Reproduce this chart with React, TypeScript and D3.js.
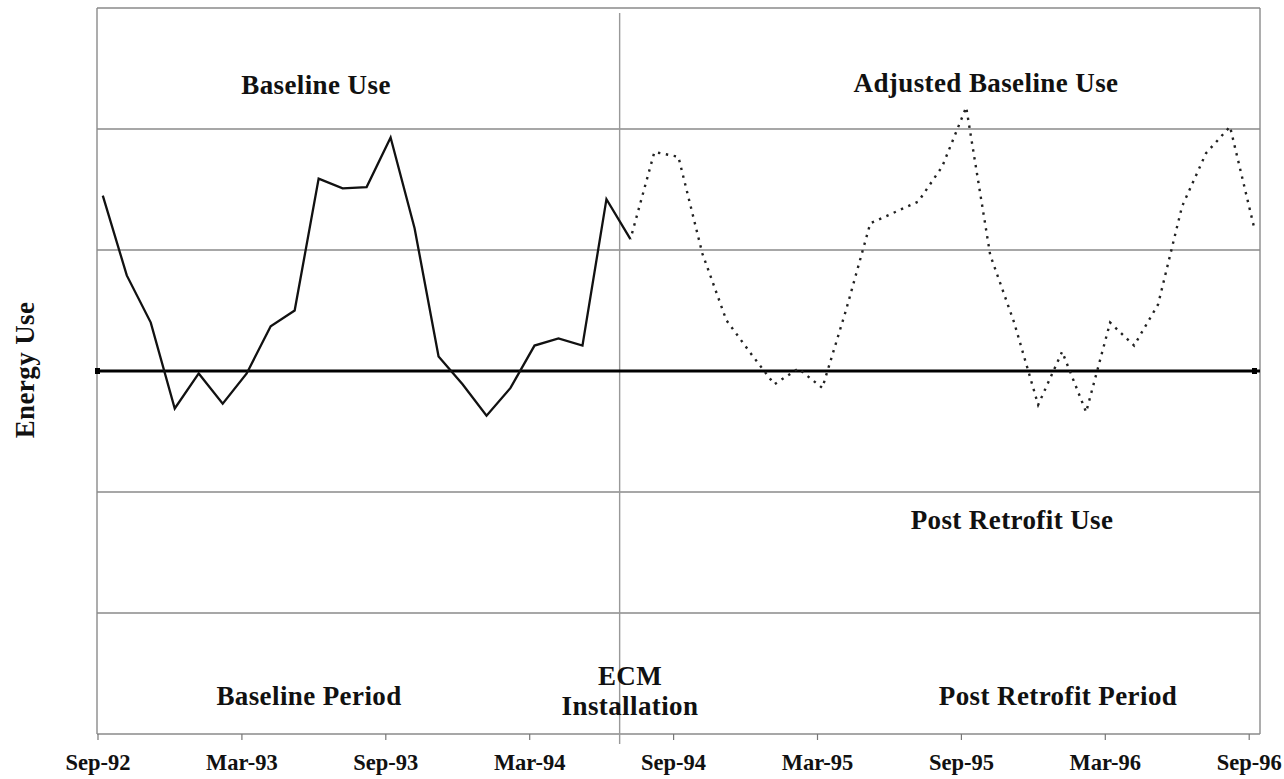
import React from "react";
import * as d3 from "d3";

// ---- Data ----
const tickLabels = ["Sep-92", "Mar-93", "Sep-93", "Mar-94", "Sep-94", "Mar-95", "Sep-95", "Mar-96", "Sep-96"];
const tickMonths = [0, 6, 12, 18, 24, 30, 36, 42, 48];

// Baseline use: monthly, Sep-92 .. Jul-94 (month index 0..22)
const baselineUse = [
  4.45, 3.79, 3.4, 2.69, 2.98, 2.73, 2.98, 3.37, 3.5, 4.59, 4.51, 4.52,
  4.93, 4.18, 3.12, 2.89, 2.63, 2.86, 3.21, 3.27, 3.21, 4.42, 4.09,
];
const baselineStart = 0;

// Adjusted baseline use: monthly, month index 22..48
const adjustedBaselineUse = [
  4.09, 4.81, 4.77, 3.97, 3.42, 3.15, 2.89, 3.02, 2.86, 3.51, 4.22, 4.31,
  4.4, 4.69, 5.18, 3.96, 3.4, 2.72, 3.16, 2.66, 3.4, 3.21, 3.55, 4.36,
  4.8, 5.02, 4.19,
];
const adjustedStart = 22;

const postRetrofitUse = 3;
const ecmMonth = 21.75;
const gridValues = [0, 1, 2, 4, 5, 6];
const yDomain = [0, 6];
const xDomain = [0, 48.45];
const pointOffset = 0.2;

const W = 1284;
const H = 779;
const left = 98;
const right = 1260;
const top = 8;
const bottom = 734;

const FONT = "'Liberation Serif', 'Times New Roman', serif";

export default function App() {
  const x = d3.scaleLinear().domain(xDomain).range([left, right]);
  const y = d3.scaleLinear().domain(yDomain).range([bottom, top]);

  const line = d3
    .line<[number, number]>()
    .x((d) => x(d[0]))
    .y((d) => y(d[1]));

  const basePts: [number, number][] = baselineUse.map((v, i) => [baselineStart + i + pointOffset, v]);
  const adjPts: [number, number][] = adjustedBaselineUse.map((v, i) => [adjustedStart + i + pointOffset, v]);

  const labelStyle: React.CSSProperties = {
    fontFamily: FONT,
    fontWeight: 700,
    fontSize: 27,
    letterSpacing: 0.4,
    fill: "#111",
  };

  return (
    <svg
      width={W}
      height={H}
      viewBox={`0 0 ${W} ${H}`}
      style={{ position: "absolute", left: 0, top: 0, background: "#fff", display: "block" }}
    >
      <rect x={0} y={0} width={W} height={H} fill="#fff" />
      {/* grid lines */}
      {gridValues.map((g) => (
        <line key={g} x1={x(xDomain[0]) - 1} x2={x(xDomain[1])} y1={y(g)} y2={y(g)} stroke="#8a8a8a" strokeWidth={1.6} />
      ))}
      {/* frame */}
      <line x1={x(xDomain[0]) - 1} x2={x(xDomain[0]) - 1} y1={y(yDomain[1])} y2={y(yDomain[0])} stroke="#8a8a8a" strokeWidth={1.4} />
      <line x1={x(xDomain[1])} x2={x(xDomain[1])} y1={y(yDomain[1])} y2={y(yDomain[0])} stroke="#8a8a8a" strokeWidth={1.4} />

      {/* x ticks */}
      {tickMonths.map((m) => (
        <line key={m} x1={x(m)} x2={x(m)} y1={y(0)} y2={y(0) + 6} stroke="#777" strokeWidth={1.2} />
      ))}
      {tickMonths.map((m, i) => (
        <text
          key={"t" + m}
          x={x(m)}
          y={770}
          textAnchor="middle"
          style={{ ...labelStyle, fontSize: 22.5, letterSpacing: 0 }}
        >
          {tickLabels[i]}
        </text>
      ))}

      {/* ECM installation line */}
      <line x1={x(ecmMonth)} x2={x(ecmMonth)} y1={13} y2={y(0) + 10} stroke="#999" strokeWidth={1.4} />

      {/* post retrofit use (thick) */}
      <line x1={x(xDomain[0]) - 1} x2={x(xDomain[1])} y1={y(postRetrofitUse)} y2={y(postRetrofitUse)} stroke="#000" strokeWidth={3} />
      <rect x={x(xDomain[0]) - 3} y={y(postRetrofitUse) - 3} width={5} height={6} fill="#000" />
      <rect x={x(48 + pointOffset) - 2} y={y(postRetrofitUse) - 3} width={5} height={6} fill="#000" />

      {/* baseline use (solid) */}
      <path d={line(basePts) || ""} fill="none" stroke="#111" strokeWidth={2.3} strokeLinejoin="miter" />

      {/* adjusted baseline use (dotted) */}
      <path
        d={line(adjPts) || ""}
        fill="none"
        stroke="#222"
        strokeWidth={2.4}
        strokeDasharray="2.4 5.6"
        strokeDashoffset={-6}
      />

      {/* annotations */}
      <text x={316} y={94} textAnchor="middle" style={labelStyle}>Baseline Use</text>
      <text x={986} y={92} textAnchor="middle" style={labelStyle}>Adjusted Baseline Use</text>
      <text x={1012} y={529} textAnchor="middle" style={labelStyle}>Post Retrofit Use</text>
      <text x={309} y={705} textAnchor="middle" style={labelStyle}>Baseline Period</text>
      <text x={1058} y={705} textAnchor="middle" style={labelStyle}>Post Retrofit Period</text>
      <text x={630} y={685} textAnchor="middle" style={labelStyle}>ECM</text>
      <text x={630} y={715} textAnchor="middle" style={labelStyle}>Installation</text>
      <text
        transform={`translate(34, 370) rotate(-90)`}
        textAnchor="middle"
        style={labelStyle}
      >
        Energy Use
      </text>
    </svg>
  );
}
